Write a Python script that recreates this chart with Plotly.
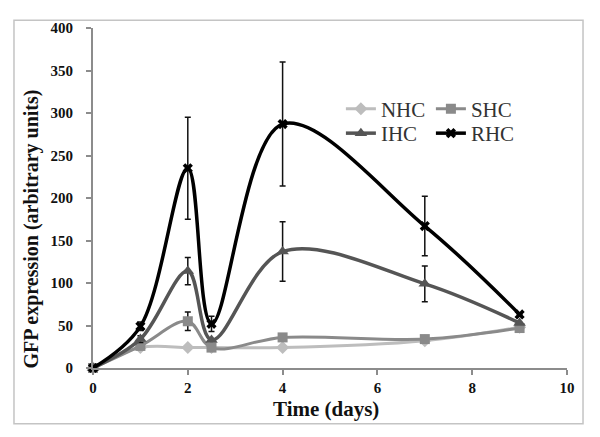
import plotly.graph_objects as go

days = [0, 1, 2, 2.5, 4, 7, 9]

nhc = [0, 24, 24, 24, 24, 32, 48]
shc = [0, 26, 55, 24, 36, 34, 47]
ihc = [0, 34, 114, 33, 137, 99, 53]
rhc = [0, 49, 235, 52, 287, 167, 63]

nhc_err = [0, 0, 0, 0, 0, 0, 0]
shc_err = [0, 0, 11, 0, 0, 0, 0]
ihc_err = [0, 4, 16, 0, 35, 21, 0]
rhc_err = [0, 5, 60, 9, 73, 35, 0]

y_ticks = [0, 50, 100, 150, 200, 250, 300, 350, 400]
x_ticks = [0, 2, 4, 6, 8, 10]

SERIF = "Times New Roman, Liberation Serif, serif"

series = [
    ("NHC", nhc, nhc_err, "#bdbdbd", "diamond", 10, 3, "legend"),
    ("SHC", shc, shc_err, "#8a8a8a", "square", 10, 3, "legend"),
    ("IHC", ihc, ihc_err, "#555555", "triangle-up", 11, 3.5, "legend2"),
    ("RHC", rhc, rhc_err, "#000000", "x", 9, 3.5, "legend2"),
]

fig = go.Figure()
for name, vals, err, color, sym, msize, lw, leg in series:
    fig.add_trace(go.Scatter(
        x=days, y=vals, name=name, mode="lines+markers",
        line=dict(color=color, width=lw, shape="spline", smoothing=1.0),
        marker=dict(color=color, symbol=sym, size=msize),
        error_y=dict(type="data", array=err, visible=True, color="#111111",
                     thickness=1.5, width=3),
        cliponaxis=False,
        legend=leg,
    ))

axis_common = dict(
    showline=True, linecolor="#8c8c8c", linewidth=2,
    showgrid=False, zeroline=False,
    tickfont=dict(family=SERIF, size=15, color="#111111", weight="bold"),
)

fig.update_layout(
    width=592, height=429,
    paper_bgcolor="white", plot_bgcolor="white",
    margin=dict(l=85, r=33, t=12, b=69),
    xaxis=dict(range=[0, 10], tickvals=x_ticks, ticks="outside", ticklen=5,
               tickcolor="#8c8c8c", tickwidth=1.5, **axis_common),
    yaxis=dict(range=[0, 400], tickvals=y_ticks, ticks="outside", ticklen=5,
               tickcolor="#8c8c8c", tickwidth=1.5, ticklabelstandoff=10,
               **axis_common),
    legend=dict(orientation="h", x=0.523, y=0.7615, xanchor="left", yanchor="middle",
                entrywidth=45, font=dict(family=SERIF, size=21, color="#333333"),
                bgcolor="rgba(0,0,0,0)", tracegroupgap=0),
    legend2=dict(orientation="h", x=0.523, y=0.6897, xanchor="left", yanchor="middle",
                 entrywidth=45, font=dict(family=SERIF, size=21, color="#333333"),
                 bgcolor="rgba(0,0,0,0)", tracegroupgap=0),
    annotations=[
        dict(text="GFP expression (arbitrary units)", xref="paper", yref="paper",
             x=-0.1287, y=0.41, textangle=-90, showarrow=False,
             xanchor="center", yanchor="middle",
             font=dict(family=SERIF, size=20, color="#111111", weight="bold")),
        dict(text="Time (days)", xref="paper", yref="paper",
             x=0.4916, y=-0.1207, showarrow=False,
             xanchor="center", yanchor="middle",
             font=dict(family=SERIF, size=21, color="#111111", weight="bold")),
    ],
    shapes=[
        dict(type="rect", xref="paper", yref="paper",
             x0=-0.1667, x1=1.0338, y0=-0.1638, y1=1.023,
             line=dict(color="#c4c4c4", width=1.5), fillcolor="rgba(0,0,0,0)", layer="below"),
    ],
)

fig.write_html("out.html")
